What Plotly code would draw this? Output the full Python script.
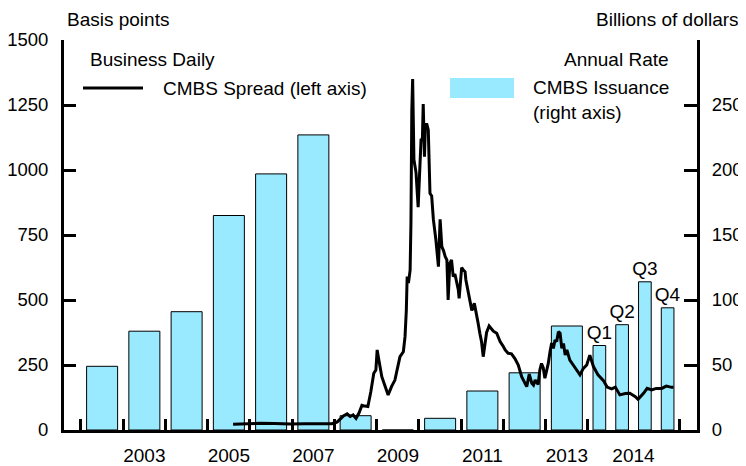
import plotly.graph_objects as go

# ---------------- data ----------------
annual_years = ["2002", "2003", "2004", "2005", "2006", "2007", "2008",
                "2009", "2010", "2011", "2012", "2013"]
annual_issuance = [49, 76, 91, 165, 197, 227, 11, 0, 9, 30, 44, 80]   # $bn
quarter_labels = ["Q1", "Q2", "Q3", "Q4"]
quarter_issuance = [65, 81, 114, 94]                                 # $bn, annual rate (2014)

x_tick_labels = ["2003", "2005", "2007", "2009", "2011", "2013", "2014"]

spread_dates = [2005.60, 2005.88, 2006.24, 2006.59, 2006.95, 2007.30, 2007.66, 2007.94,
                2008.06, 2008.15, 2008.22, 2008.30, 2008.37, 2008.44, 2008.51, 2008.58,
                2008.65, 2008.72, 2008.79, 2008.86, 2008.93, 2008.98, 2009.01, 2009.05,
                2009.12, 2009.20, 2009.27, 2009.35, 2009.43, 2009.55, 2009.63, 2009.67,
                2009.70, 2009.72, 2009.75, 2009.79, 2009.81, 2009.83, 2009.85, 2009.88,
                2009.93, 2009.98, 2010.02, 2010.05, 2010.08, 2010.10, 2010.13, 2010.15,
                2010.18, 2010.22, 2010.26, 2010.30, 2010.34, 2010.40, 2010.46, 2010.50,
                2010.54, 2010.58, 2010.62, 2010.66, 2010.69, 2010.73, 2010.77, 2010.81,
                2010.85, 2010.89, 2010.93, 2010.95, 2011.01, 2011.05, 2011.09, 2011.11,
                2011.17, 2011.25, 2011.31, 2011.38, 2011.40, 2011.44, 2011.48, 2011.52,
                2011.56, 2011.60, 2011.66, 2011.76, 2011.84, 2011.92, 2012.00, 2012.04,
                2012.11, 2012.19, 2012.27, 2012.35, 2012.43, 2012.51, 2012.55, 2012.61,
                2012.67, 2012.71, 2012.75, 2012.82, 2012.86, 2012.90, 2012.94, 2012.98,
                2013.06, 2013.10, 2013.14, 2013.18, 2013.22, 2013.26, 2013.30, 2013.34,
                2013.38, 2013.42, 2013.46, 2013.50, 2013.57, 2013.65, 2013.73, 2013.81,
                2013.89, 2013.97, 2014.02, 2014.06, 2014.11, 2014.17, 2014.21, 2014.26,
                2014.30, 2014.35, 2014.41, 2014.46, 2014.52, 2014.55, 2014.61, 2014.65,
                2014.70, 2014.75, 2014.81, 2014.86, 2014.92, 2014.94]
spread_bp = [22, 24, 26, 25, 23, 24, 23, 24,
             30, 45, 55, 62, 52, 58, 45, 65,
             95, 92, 90, 147, 218, 231, 308, 269,
             205, 167, 135, 167, 192, 282, 301, 360,
             460, 590, 565, 615, 800, 1230, 1350, 1040,
             990, 857, 1000, 1120, 1115, 1254, 1051, 1167,
             1179, 1154, 910, 900, 810, 731, 628, 810,
             705, 690, 667, 654, 500, 641, 654, 590,
             600, 575, 540, 506, 625, 615, 609, 577,
             530, 460, 487, 436, 411, 372, 340, 282,
             333, 375, 400, 380, 372, 340, 320, 308,
             295, 293, 275, 250, 205, 180, 167, 215,
             180, 173, 192, 175, 231, 256, 240, 199,
             256, 300, 335, 314, 346, 340, 378, 372,
             314, 333, 288, 308, 269, 250, 230, 212,
             237, 250, 288, 244, 212, 190, 165, 158,
             165, 135, 140, 141, 128, 118, 141, 160,
             154, 160, 160, 169, 164, 164]

# ---------------- axis geometry (slot units: one year = 1) ----------------
QW = 0.5385            # width of one 2014 quarter slot
ANNUAL_W = 0.734
QUARTER_W = 0.30
X_RANGE = [-0.402, 14.58]

def date_to_x(d):
    if d < 2014:
        return d - 2002
    return 12 + (d - 2014) * 4 * QW

bar_x = [i + 0.5 for i in range(len(annual_years))] + [12 + (q + 0.5) * QW for q in range(4)]
bar_w = [ANNUAL_W] * len(annual_years) + [QUARTER_W] * 4
bar_y = annual_issuance + quarter_issuance
bar_text = [""] * len(annual_years) + quarter_labels

boundaries = list(range(0, 13)) + [12 + 4 * QW]
label_pos = [int(y) - 2002 + 0.5 for y in x_tick_labels[:-1]] + [12 + 2 * QW]

FONT = "Liberation Sans, Arial, sans-serif"
FS = 19
BAR_COLOR = "#99E9FF"

fig = go.Figure()

fig.add_trace(go.Bar(
    x=bar_x, y=bar_y, width=bar_w,
    marker=dict(color=BAR_COLOR, line=dict(color="black", width=1)),
    text=bar_text, textposition="outside", constraintext="none",
    textfont=dict(family=FONT, size=FS, color="black"),
    cliponaxis=False, xaxis="x", yaxis="y", showlegend=False, hoverinfo="skip"))

fig.add_trace(go.Scatter(
    x=[date_to_x(d) for d in spread_dates], y=spread_bp,
    mode="lines", line=dict(color="black", width=3),
    xaxis="x", yaxis="y2", showlegend=False, hoverinfo="skip"))

# dummy traces to activate helper axes
for xa, ya in [("x2", "y"), ("x", "y3"), ("x", "y4")]:
    fig.add_trace(go.Scatter(x=[None], y=[None], mode="lines", xaxis=xa, yaxis=ya,
                             showlegend=False, hoverinfo="skip"))

tickfont = dict(family=FONT, size=FS, color="black")
ytickfont = dict(family=FONT, size=18.5, color="black")

# the page body adds an 8 px offset, so the figure is 8 px smaller on each side
fig.update_layout(
    width=738, height=458,
    margin=dict(l=56, r=49, t=32, b=36, autoexpand=False),
    paper_bgcolor="white", plot_bgcolor="white",
    font=dict(family=FONT, size=FS, color="black"),
    showlegend=False, hovermode=False,
    xaxis=dict(range=X_RANGE, tickmode="array", tickvals=boundaries,
               ticks="inside", ticklen=11, tickwidth=2.5, tickcolor="black",
               showticklabels=False, showline=True, linewidth=3, linecolor="black",
               showgrid=False, zeroline=False, anchor="y", automargin=False),
    xaxis2=dict(range=X_RANGE, overlaying="x", side="bottom", anchor="y",
                tickmode="array", tickvals=label_pos, ticktext=x_tick_labels,
                ticks="", tickfont=tickfont, ticklabelstandoff=12, automargin=False,
                showline=False, showgrid=False, zeroline=False),
    yaxis=dict(range=[0, 300], side="right", tickmode="array",
               tickvals=[0, 50, 100, 150, 200, 250],
               ticks="inside", ticklen=13, tickwidth=2.5, tickcolor="black",
               tickfont=ytickfont, ticklabelstandoff=8, automargin=False,
               showline=True, linewidth=3, linecolor="black",
               showgrid=False, zeroline=False, anchor="x"),
    yaxis2=dict(range=[0, 1500], side="left", overlaying="y", tickmode="array",
                tickvals=[0, 250, 500, 750, 1000, 1250, 1500],
                ticks="inside", ticklen=12, tickwidth=2.5, tickcolor="black",
                tickfont=ytickfont, ticklabelstandoff=9, automargin=False,
                showline=True, linewidth=3, linecolor="black",
                showgrid=False, zeroline=False, anchor="x"),
    yaxis3=dict(range=[0, 1500], side="left", overlaying="y", tickmode="array",
                tickvals=[1500], ticks="inside", ticklen=24, tickwidth=2.5,
                tickcolor="black", showticklabels=False, showline=False, automargin=False,
                showgrid=False, zeroline=False, anchor="x"),
    yaxis4=dict(range=[0, 300], side="right", overlaying="y", tickmode="array",
                tickvals=[300], ticks="inside", ticklen=24, tickwidth=2.5,
                tickcolor="black", showticklabels=False, showline=False, automargin=False,
                showgrid=False, zeroline=False, anchor="x"),
)

def pxx(px):
    return (px - 64) / 633.0

def pxy(py):
    return (430 - py) / 390.0

annots = [
    dict(text="Basis points", x=pxx(65), y=pxy(19.5), xanchor="left", yanchor="middle"),
    dict(text="Billions of dollars", x=pxx(741), y=pxy(19.5), xanchor="right", yanchor="middle"),
    dict(text="Business Daily", x=pxx(88), y=pxy(59), xanchor="left", yanchor="middle"),
    dict(text="CMBS Spread (left axis)", x=pxx(161), y=pxy(88), xanchor="left", yanchor="middle"),
    dict(text="Annual Rate", x=pxx(671), y=pxy(59), xanchor="right", yanchor="middle"),
    dict(text="CMBS Issuance<br>(right axis)", x=pxx(531), y=pxy(100), xanchor="left",
         yanchor="middle", align="left"),
]
for a in annots:
    a.update(xref="paper", yref="paper", showarrow=False,
             font=dict(family=FONT, size=FS, color="black"))
fig.update_layout(annotations=annots)

fig.update_layout(shapes=[
    dict(type="line", xref="paper", yref="paper", x0=pxx(83), x1=pxx(143),
         y0=pxy(88), y1=pxy(88), line=dict(color="black", width=3)),
    dict(type="rect", xref="paper", yref="paper", x0=pxx(450), x1=pxx(514),
         y0=pxy(98), y1=pxy(78), fillcolor=BAR_COLOR, line=dict(width=0)),
])

fig.write_html("out.html")
